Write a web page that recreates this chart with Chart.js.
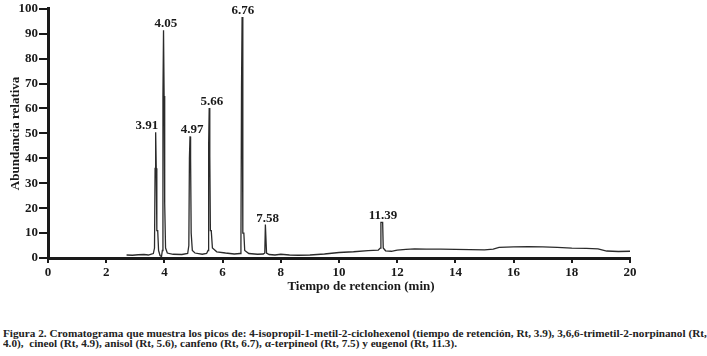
<!DOCTYPE html>
<html>
<head>
<meta charset="utf-8">
<script src="https://cdn.jsdelivr.net/npm/chart.js@4"></script>
<style>
  body { margin: 0; background: #fff; }
  #wrap { position: relative; width: 707px; height: 356px; }
  #chart { position: absolute; left: 0; top: 0; }
  .cap {
    position: absolute; left: 3px; white-space: nowrap;
    font: bold 10.5px "Liberation Serif", serif; line-height: 10px; color: #222;
    transform-origin: 0 50%;
  }
</style>
</head>
<body>
<div id="wrap">
  <canvas id="chart" width="707" height="300"></canvas>
  <div class="cap" id="cap1" style="top:329px">Figura 2. Cromatograma que muestra los picos de: 4-isopropil-1-metil-2-ciclohexenol (tiempo de retención, Rt, 3.9), 3,6,6-trimetil-2-norpinanol (Rt,</div>
  <div class="cap" id="cap2" style="top:339px">4.0),&nbsp; cineol (Rt, 4.9), anisol (Rt, 5.6), canfeno (Rt, 6.7), α-terpineol (Rt, 7.5) y eugenol (Rt, 11.3).</div>
</div>
<script>
// retention time (min) and relative abundance
const rtMin = [
  2.70, 2.90, 3.10, 3.30, 3.45, 3.55, 3.62, 3.66, 3.68, 3.70, 3.72, 3.74, 3.77, 3.80, 3.85, 3.90,
  3.93, 3.95, 3.97, 3.99, 4.01, 4.04, 4.10, 4.30, 4.60, 4.80,
  4.84, 4.86, 4.88, 4.90, 4.92, 4.96, 5.05, 5.30, 5.45,
  5.50, 5.52, 5.54, 5.56, 5.58, 5.61, 5.65, 5.80, 6.10, 6.40, 6.60,
  6.63, 6.65, 6.67, 6.69, 6.70, 6.73, 6.76, 6.90, 7.20, 7.40,
  7.45, 7.47, 7.49, 7.51, 7.60, 7.80, 8.00, 8.30, 8.60, 9.00, 9.50, 10.0, 10.5, 11.0, 11.35,
  11.42, 11.44, 11.50, 11.52, 11.60, 11.80, 12.0, 12.3, 12.6, 13.0, 13.5, 14.0, 14.5, 15.0,
  15.3, 15.5, 16.0, 16.5, 17.0, 17.5, 18.0, 18.5, 18.9, 19.2, 19.6, 20.0
];
const abundance = [
  1.2, 1.1, 1.3, 1.4, 1.2, 1.6, 1.8, 4, 36, 50.5, 36, 11, 11, 3, 1.0, 0.6,
  3, 65, 91.4, 65, 22, 4, 2, 1.5, 1.4, 1.8,
  5, 40, 48.8, 40, 10, 3, 2, 1.5, 1.8,
  3, 45, 60.2, 41, 11, 11, 4, 2.5, 2, 1.6, 1.8,
  5, 68, 96.7, 35, 10, 10, 3, 1.8, 1.5, 1.6,
  2, 13.4, 13.4, 2, 1.4, 1.2, 1.5, 1.2, 1.1, 1.2, 1.6, 2.2, 2.5, 3.0, 3.2,
  4, 14.3, 14.3, 4, 2.9, 2.7, 3.2, 3.5, 3.7, 3.6, 3.6, 3.5, 3.4, 3.3,
  3.6, 4.3, 4.5, 4.6, 4.5, 4.3, 4.0, 3.9, 3.7, 2.8, 2.6, 2.7
];

// peak annotations
const peakLabels = ['3.91', '4.05', '4.97', '5.66', '6.76', '7.58', '11.39'];
const peakLabelX = [3.40, 4.05, 4.95, 5.63, 6.70, 7.55, 11.51];
const peakLabelY = [50.5, 91.4, 48.8, 60.2, 96.7, 13.4, 14.3];

const serif = '"Liberation Serif", serif';
const ink = '#1a1a1a';

const peakText = {
  id: 'peakText',
  afterDatasetsDraw(chart) {
    const { ctx, scales: { x, y } } = chart;
    ctx.save();
    ctx.fillStyle = ink;
    ctx.font = 'bold 13px ' + serif;
    ctx.textAlign = 'center';
    ctx.textBaseline = 'alphabetic';
    peakLabels.forEach((t, i) => {
      ctx.fillText(t, x.getPixelForValue(peakLabelX[i]), y.getPixelForValue(peakLabelY[i]) - 3);
    });
    // x axis title sits a bit right of centre in the original
    ctx.textBaseline = 'middle';
    ctx.fillText('Tiempo de retencion (min)', (x.left + x.right) / 2 + 22, 287);
    ctx.restore();
  }
};

new Chart(document.getElementById('chart'), {
  type: 'line',
  data: {
    datasets: [{
      data: rtMin.map((t, i) => ({ x: t, y: abundance[i] })),
      borderColor: '#2b2b2b',
      borderWidth: 1.3,
      pointRadius: 0,
      tension: 0
    }]
  },
  options: {
    responsive: false,
    animation: false,
    devicePixelRatio: 1,
    layout: { padding: { left: 0, top: 7, right: 77, bottom: 0 } },
    plugins: { legend: { display: false }, tooltip: { enabled: false } },
    scales: {
      x: {
        type: 'linear', min: 0, max: 20,
        ticks: { stepSize: 2, color: ink, font: { family: serif, size: 13, weight: 'bold' }, padding: 2, maxRotation: 0 },
        grid: { drawOnChartArea: false, drawTicks: true, tickLength: 5, lineWidth: 2, color: ink },
        border: { display: true, width: 3, color: ink },
        afterFit(s) { s.height = 42; }
      },
      y: {
        min: 0, max: 100,
        ticks: { stepSize: 10, color: ink, font: { family: serif, size: 13, weight: 'bold' }, padding: 1 },
        grid: { drawOnChartArea: false, drawTicks: true, tickLength: 9, lineWidth: 2, color: ink },
        border: { display: true, width: 3, color: ink },
        title: { display: true, text: 'Abundancia relativa', color: ink, font: { family: serif, size: 13, weight: 'bold' }, padding: { top: 8, bottom: 0 } },
        afterFit(s) { s.width = 48; }
      }
    }
  },
  plugins: [peakText]
});

// fit the caption's first line to the width used in the original
const c1 = document.getElementById('cap1');
const c2 = document.getElementById('cap2');
const k = 704 / c1.offsetWidth;
c1.style.transform = 'scaleX(' + k + ')';
c2.style.transform = 'scaleX(' + k + ')';
</script>
</body>
</html>
